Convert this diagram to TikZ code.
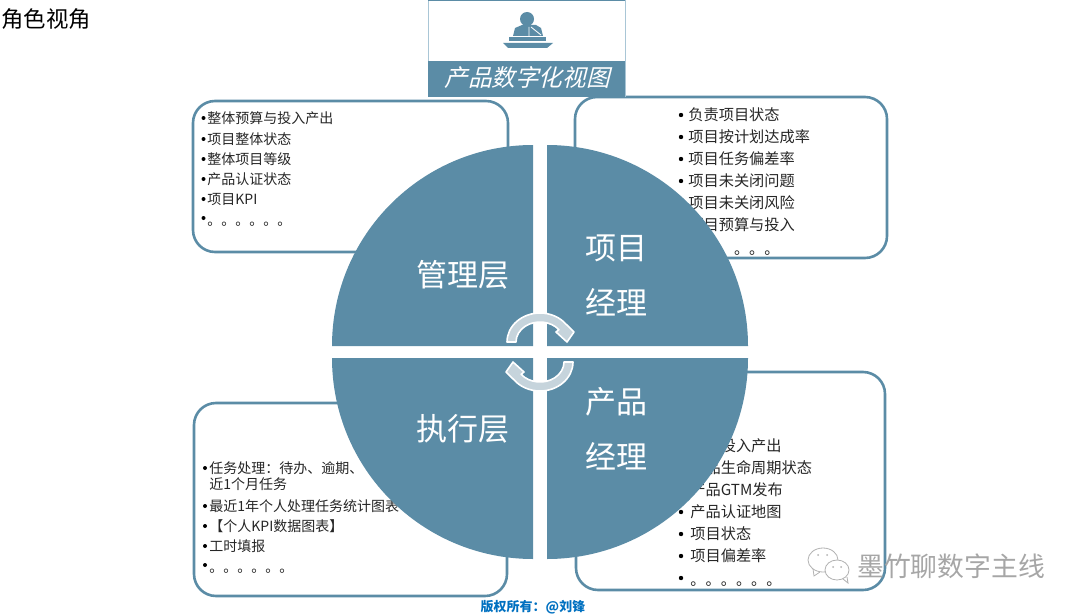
\documentclass[tikz,border=0pt]{standalone}
\usepackage{fontspec}
\setmainfont{Noto Sans CJK SC}
\newfontfamily\slantfont[FakeSlant=0.25]{Noto Sans CJK SC}
\definecolor{viewblue}{HTML}{5B8CA6}
\definecolor{viewpale}{HTML}{A9C6D6}
\definecolor{arrowgray}{HTML}{C6D4DC}
\definecolor{copyblue}{HTML}{0070C0}
\tikzset{
	card/.style={draw=viewblue, line width=1.3pt, rounded corners=11pt, fill=white},
	quarter/.style={fill=viewblue},
	rolename/.style={text=white, font=\fontsize{15.5pt}{18pt}\selectfont, inner sep=0pt},
	listleft/.style={anchor=west, inner sep=0pt, text=black!85, font=\fontsize{7pt}{8pt}\selectfont},
	listright/.style={anchor=west, inner sep=0pt, text=black!85, font=\fontsize{7.6pt}{9pt}\selectfont},
	turn/.style={fill=arrowgray, draw=white, line width=0.8pt, line join=round},
}
\begin{document}
\begin{tikzpicture}[x=0.5pt,y=-0.5pt]
	\useasboundingbox (0,0) rectangle (1080,615);
	\node[anchor=west, inner sep=0pt, font=\fontsize{11.2pt}{13pt}\selectfont] (viewtitle) at (1,19) {角色视角};
	% the four cards
	\draw[card] (193,101) rectangle (508,252);
	\draw[card] (575,97) rectangle (887,258);
	\draw[card] (194,403) rectangle (507,596);
	\draw[card] (576,372) rectangle (885,590);
	% top left list
	\foreach \i\j in {118/整体预算与投入产出,139/项目整体状态,159/整体项目等级,179/产品认证状态,199/项目KPI}{
		\node[listleft] (mgr\i) at (207,\i) {\j};
		\fill (203.5,\i) circle (2);
	}
	\node[listleft] (mgr224) at (207,224) {。。。。。。};
	\fill (203.5,218) circle (2);
	% top right list
	\foreach \i\j in {115/负责项目状态,137/项目按计划达成率,159/项目任务偏差率,181/项目未关闭问题,203/项目未关闭风险,225/项目预算与投入}{
		\node[listright] (pm\i) at (688,\i) {\j};
		\fill (681,\i) circle (2.2);
	}
	\node[listright] (pm253) at (688,253) {。。。。。。};
	% bottom left list
	\foreach \i\j in {468/任务处理：待办、逾期、,506/最近1年个人处理任务统计图表,526/【个人KPI数据图表】,546/工时填报}{
		\node[listleft] (exec\i) at (209,\i) {\j};
		\fill (205,\i) circle (2);
	}
	\node[listleft] (exec484) at (209,484) {近1个月任务};
	\node[listleft] (exec571) at (209,571) {。。。。。。};
	\fill (205,565) circle (2);
	% bottom right list
	\foreach \i\j in {446/产品投入产出,468/产品生命周期状态,490/产品GTM发布,512/产品认证地图,534/项目状态,556/项目偏差率}{
		\node[listright] (prod\i) at (690,\i) {\j};
		\fill (681,\i) circle (2.2);
	}
	\node[listright] (prod584) at (690,584) {。。。。。。};
	\fill (681,578) circle (2.2);
	% the circle
	\fill[quarter] (533,346) -- (332,346) arc[start angle=180,end angle=270,radius=201] -- cycle;
	\fill[quarter] (547,346) -- (547,145) arc[start angle=270,end angle=360,radius=201] -- cycle;
	\fill[quarter] (533,358) -- (533,559) arc[start angle=90,end angle=180,radius=201] -- cycle;
	\fill[quarter] (547,358) -- (748,358) arc[start angle=0,end angle=90,radius=201] -- cycle;
	\foreach \a in {0,180}{
		\begin{scope}[rotate around={\a:(540,352)}]
			\draw[turn] (507,342) arc[start angle=180,end angle=322,x radius=33,y radius=29]
				-- (574,332) -- (567,342) -- (556,332) -- (558.9,329.7)
				arc[start angle=322,end angle=180,x radius=24,y radius=20] -- cycle;
		\end{scope}
	}
	\node[rolename] (mgrname) at (463,275) {管理层};
	\node[rolename] (pmname1) at (616,248) {项目};
	\node[rolename] (pmname2) at (616,302) {经理};
	\node[rolename] (execname) at (463,429) {执行层};
	\node[rolename] (prodname1) at (616,402) {产品};
	\node[rolename] (prodname2) at (616,456) {经理};
	% header with the speaker
	\filldraw[fill=white, draw=viewpale, line width=0.5pt] (428,0) rectangle (625,97);
	\draw[viewblue, line width=0.8pt] (428,0.5) -- (625,0.5);
	\fill[viewblue] (428,61) rectangle (625,97);
	\node[text=white, inner sep=0pt, font=\fontsize{11.8pt}{14pt}\slantfont] (viewname) at (527,78) {产品数字化视图};
	\fill[viewblue] (527,19) circle (7);
	\fill[viewblue] (513,36) -- (515,28) -- (522,25) -- (536,25) -- (541,28) -- (543,36) -- cycle;
	\draw[white, line width=0.4pt] (529,27) -- (529,36) (531,27) -- (541,35);
	\fill[viewblue] (509,37) rectangle (546,41);
	\fill[viewblue] (503,43) -- (553,43) -- (547,48) -- (508,48) -- cycle;
	% watermark
	\filldraw[fill=white, draw=gray!60, line width=0.4pt] (823,560) ellipse (15 and 12);
	\draw[gray!60, line width=0.4pt] (813,569) -- (814,576) -- (820,572);
	\filldraw[fill=white, draw=gray!60, line width=0.4pt] (837,570) ellipse (12 and 10);
	\draw[gray!60, line width=0.4pt] (843,579) -- (848,583) -- (847,577);
	\foreach \x\y in {818/555,827/555,833/567,841/567}{
		\fill[gray!60] (\x,\y) circle (1);
	}
	\node[text=gray!70, inner sep=0pt, font=\fontsize{13.4pt}{15pt}\selectfont] (mark) at (951,566) {墨竹聊数字主线};
	\node[text=copyblue, inner sep=0pt, font=\fontsize{6.5pt}{8pt}\bfseries\selectfont] (copyright) at (533,607) {版权所有：@刘锋};
\end{tikzpicture}
\end{document}
